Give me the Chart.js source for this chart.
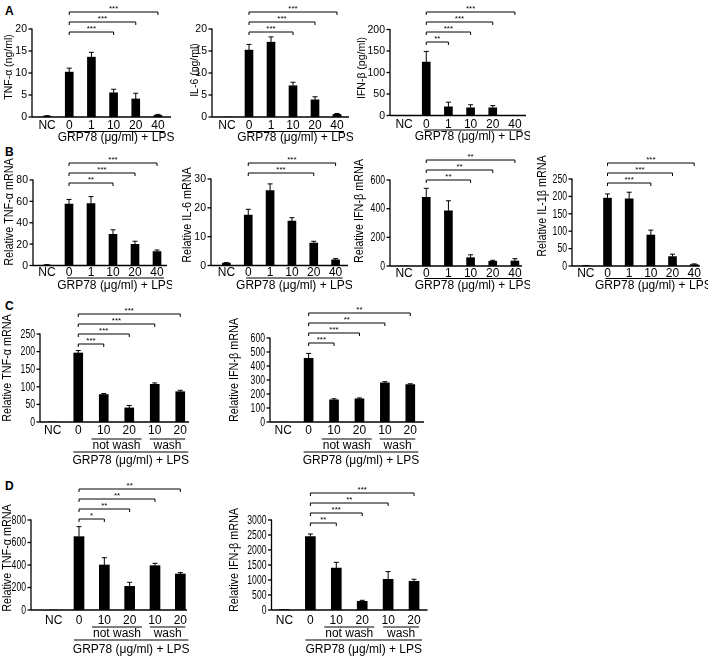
<!DOCTYPE html>
<html>
<head>
<meta charset="utf-8">
<script src="https://cdn.jsdelivr.net/npm/chart.js@4.4.0/dist/chart.umd.min.js"></script>
<style>
  body { margin: 0; background: #fff; width: 708px; height: 660px; position: relative; overflow: hidden;
         font-family: 'Liberation Sans', Arial, sans-serif; }
  canvas { position: absolute; }
  .panel { position: absolute; left: 5px; font-weight: bold; font-size: 12px; line-height: 12px; color: #000; }
</style>
</head>
<body>
<div class="panel" style="top:5px">A</div>
<div class="panel" style="top:146px">B</div>
<div class="panel" style="top:300px">C</div>
<div class="panel" style="top:480px">D</div>
<script>
// categories
const doseLabels = ['NC', '0', '1', '10', '20', '40'];
const washLabels = ['NC', '0', '10', '20', '10', '20'];
const washGroups = [[2, 3, 'not wash'], [4, 5, 'wash']];
const xTitle = 'GRP78 (μg/ml) + LPS';

// A - secreted protein
const aTnfTicks = [0, 5, 10, 15, 20];
const aTnfMean = [0.2, 10.2, 13.6, 5.5, 4.1, 0.4];
const aTnfErr = [0.1, 0.9, 1.1, 0.8, 1.3, 0.2];
const aTnfSig = [[1, 3, '***'], [1, 4, '***'], [1, 5, '***']];

const aIl6Ticks = [0, 5, 10, 15, 20];
const aIl6Mean = [0, 15.2, 17.0, 7.1, 3.9, 0.6];
const aIl6Err = [0, 1.3, 1.2, 0.8, 0.7, 0.2];
const aIl6Sig = [[1, 3, '***'], [1, 4, '***'], [1, 5, '***']];

const aIfnTicks = [0, 50, 100, 150, 200];
const aIfnMean = [0, 124, 20, 18, 18, 0];
const aIfnErr = [0, 25, 11, 7, 5, 0];
const aIfnSig = [[1, 2, '**'], [1, 3, '***'], [1, 4, '***'], [1, 5, '***']];

// B - mRNA
const bTnfTicks = [0, 20, 40, 60, 80];
const bTnfMean = [0.5, 57.4, 58, 29.2, 19.7, 13];
const bTnfErr = [0.3, 4.4, 6.5, 4.2, 3, 1.5];
const bTnfSig = [[1, 3, '**'], [1, 4, '***'], [1, 5, '***']];

const bIl6Ticks = [0, 10, 20, 30];
const bIl6Mean = [0.8, 17.5, 26, 15.4, 7.8, 2.0];
const bIl6Err = [0.2, 2.0, 2.3, 1.2, 0.6, 0.4];
const bIl6Sig = [[1, 4, '***'], [1, 5, '***']];

const bIfnTicks = [0, 200, 400, 600];
const bIfnMean = [0, 479, 385, 58, 33, 35];
const bIfnErr = [0, 63, 70, 20, 7, 16];
const bIfnSig = [[1, 3, '**'], [1, 4, '**'], [1, 5, '**']];

const bIl1Ticks = [0, 50, 100, 150, 200, 250];
const bIl1Mean = [1, 195, 193, 89, 27, 4];
const bIl1Err = [0.5, 12, 19, 14, 7, 2];
const bIl1Sig = [[1, 3, '***'], [1, 4, '***'], [1, 5, '***']];

// C - wash experiment
const cTnfTicks = [0, 50, 100, 150, 200, 250];
const cTnfMean = [0, 196, 78, 40, 107, 86];
const cTnfErr = [0, 7, 3, 7, 4, 4];
const cTnfSig = [[1, 2, '***'], [1, 3, '***'], [1, 4, '***'], [1, 5, '***']];

const cIfnTicks = [0, 100, 200, 300, 400, 500, 600];
const cIfnMean = [0, 455, 158, 165, 280, 268];
const cIfnErr = [0, 35, 8, 7, 8, 5];
const cIfnSig = [[1, 2, '***'], [1, 3, '***'], [1, 4, '**'], [1, 5, '**']];

// D - wash experiment
const dTnfTicks = [0, 200, 400, 600, 800];
const dTnfMean = [0, 652, 400, 210, 394, 320];
const dTnfErr = [0, 89, 65, 36, 21, 12];
const dTnfSig = [[1, 2, '*'], [1, 3, '**'], [1, 4, '**'], [1, 5, '**']];

const dIfnTicks = [0, 500, 1000, 1500, 2000, 2500, 3000];
const dIfnMean = [10, 2444, 1400, 290, 1020, 955];
const dIfnErr = [0, 89, 189, 33, 260, 70];
const dIfnSig = [[1, 2, '**'], [1, 3, '***'], [1, 4, '**'], [1, 5, '***']];

const FONT = "'Liberation Sans', Arial, sans-serif";
Chart.defaults.font.family = FONT;
Chart.defaults.color = '#000';

// row placement: canvas band, tick label / group label offsets below the x axis
const rowA = { row: [0, 148], tFont: '10.5px ' + FONT, tSx: 1, tickOff: 9, line: 14.5, text: 21 };
const rowB = { row: [148, 300], tFont: '12px ' + FONT, tSx: 0.9, tickOff: 7.5, line: 12.5, text: 20 };
const rowC = { row: [300, 472], tFont: '12px ' + FONT, tSx: 0.9, tickOff: 9, subLine: 17, subText: 23.5, line: 30, text: 39 };
const rowD = { row: [472, 660], tFont: '12px ' + FONT, tSx: 0.9, tickOff: 11, subLine: 17, subText: 24, line: 30, text: 40 };
// y tick label styles (condensed look is a horizontal squeeze)
const yRegular = { font: '10.5px ' + FONT, sx: 1 };
const yNarrow = { font: '12px ' + FONT, sx: 0.72 };

const charts = [
  { ...rowA, yl: yRegular, title: 'TNF-α (ng/ml)', labels: doseLabels, ticks: aTnfTicks, mean: aTnfMean, err: aTnfErr, sig: aTnfSig,
    tx: 9, ty: 67, axisX: 32, L: 36, R: 169, xEnd: 171, top: 29, y0: 117, sig0: 32, barW: 8 },
  { ...rowA, yl: yRegular, title: 'IL-6 (ng/ml)', labels: doseLabels, ticks: aIl6Ticks, mean: aIl6Mean, err: aIl6Err, sig: aIl6Sig,
    tx: 195, ty: 70, axisX: 212, L: 216, R: 348, xEnd: 349, top: 29, y0: 117, sig0: 32, barW: 8 },
  { ...rowA, yl: yRegular, title: 'IFN-β (pg/ml)', labels: doseLabels, ticks: aIfnTicks, mean: aIfnMean, err: aIfnErr, sig: aIfnSig,
    tx: 362, ty: 68, axisX: 390, L: 393, R: 526, xEnd: 526, top: 29.5, y0: 115.5, sig0: 42, barW: 8 },

  { ...rowB, yl: yRegular, title: 'Relative TNF-α mRNA', labels: doseLabels, ticks: bTnfTicks, mean: bTnfMean, err: bTnfErr, sig: bTnfSig,
    tx: 10, ty: 212, axisX: 33, L: 36, R: 168, xEnd: 167, top: 180, y0: 265.5, sig0: 183, barW: 8 },
  { ...rowB, yl: yRegular, title: 'Relative IL-6 mRNA', labels: doseLabels, ticks: bIl6Ticks, mean: bIl6Mean, err: bIl6Err, sig: bIl6Sig,
    tx: 188, ty: 215, axisX: 211, L: 215.5, R: 346.5, xEnd: 348, top: 179, y0: 265.5, sig0: 173, barW: 8 },
  { ...rowB, yl: yNarrow, title: 'Relative IFN-β mRNA', labels: doseLabels, ticks: bIfnTicks, mean: bIfnMean, err: bIfnErr, sig: bIfnSig,
    tx: 360, ty: 211, axisX: 390, L: 393, R: 526, xEnd: 522, top: 180, y0: 266, sig0: 180, barW: 8 },
  { ...rowB, yl: yNarrow, title: 'Relative IL-1β mRNA', labels: doseLabels, ticks: bIl1Ticks, mean: bIl1Mean, err: bIl1Err, sig: bIl1Sig,
    tx: 543, ty: 206, axisX: 572, L: 575, R: 705, xEnd: 700, top: 179, y0: 266, sig0: 183, barW: 8 },

  { ...rowC, yl: yNarrow, title: 'Relative TNF-α mRNA', labels: washLabels, groups: washGroups, ticks: cTnfTicks, mean: cTnfMean, err: cTnfErr, sig: cTnfSig,
    tx: 8, ty: 368, axisX: 40, L: 40, R: 193, xEnd: 189, top: 334, y0: 422, sig0: 344, barW: 9 },
  { ...rowC, yl: yNarrow, title: 'Relative IFN-β mRNA', labels: washLabels, groups: washGroups, ticks: cIfnTicks, mean: cIfnMean, err: cIfnErr, sig: cIfnSig,
    tx: 235, ty: 370, axisX: 270, L: 270.5, R: 423, xEnd: 424, top: 338, y0: 422, sig0: 343, barW: 9 },

  { ...rowD, yl: yNarrow, title: 'Relative TNF-α mRNA', labels: washLabels, groups: washGroups, ticks: dTnfTicks, mean: dTnfMean, err: dTnfErr, sig: dTnfSig,
    tx: 8, ty: 558, axisX: 31, L: 41, R: 193, xEnd: 187, top: 520, y0: 610, sig0: 519, barW: 10 },
  { ...rowD, yl: yNarrow, title: 'Relative IFN-β mRNA', labels: washLabels, groups: washGroups, ticks: dIfnTicks, mean: dIfnMean, err: dIfnErr, sig: dIfnSig,
    tx: 235, ty: 560, axisX: 271.5, L: 271.5, R: 427, xEnd: 427.5, top: 520, y0: 610, sig0: 523, barW: 10 }
];

// axes, y tick labels, error bars, significance brackets, axis titles and group labels
function decor(s, cx, cy) {
  return {
    id: 'decor',
    afterDatasetsDraw(chart) {
      const ctx = chart.ctx, xs = chart.scales.x, ys = chart.scales.y;
      const X = v => v - cx, Y = v => v - cy;
      const seg = (x1, y1, x2, y2) => { ctx.beginPath(); ctx.moveTo(x1, y1); ctx.lineTo(x2, y2); ctx.stroke(); };
      const squeezed = (txt, x, y, sx) => {
        ctx.save(); ctx.translate(x, y); ctx.scale(sx, 1); ctx.fillText(txt, 0, 0); ctx.restore();
      };
      ctx.save();
      ctx.strokeStyle = '#000';
      ctx.fillStyle = '#000';

      ctx.lineWidth = 1.3;
      const base = ys.getPixelForValue(0), topY = ys.getPixelForValue(ys.max);
      const ax = X(s.axisX);
      seg(ax, topY - 0.6, ax, base);
      seg(ax, base, X(s.xEnd), base);
      ctx.font = s.yl.font;
      ctx.textAlign = 'right';
      ctx.textBaseline = 'middle';
      ys.ticks.forEach(t => {
        const y = ys.getPixelForValue(t.value);
        seg(ax - 3.5, y, ax, y);
        squeezed(String(t.value), ax - 5, y + 0.5, s.yl.sx);
      });

      ctx.lineWidth = 1;
      s.mean.forEach((m, i) => {
        const e = s.err[i];
        if (!e) return;
        const x = xs.getPixelForValue(i);
        const y1 = ys.getPixelForValue(m), y2 = ys.getPixelForValue(m + e);
        seg(x, y1, x, y2);
        seg(x - 2.5, y2, x + 2.5, y2);
      });

      ctx.font = '8px ' + FONT;
      ctx.textAlign = 'center';
      ctx.textBaseline = 'alphabetic';
      s.sig.forEach(([a, b, lab], k) => {
        const y = Y(s.sig0 - k * 10);
        const xa = xs.getPixelForValue(a), xb = xs.getPixelForValue(b);
        ctx.beginPath();
        ctx.moveTo(xa, y + 3); ctx.lineTo(xa, y); ctx.lineTo(xb, y); ctx.lineTo(xb, y + 3);
        ctx.stroke();
        ctx.fillText(lab, (xa + xb) / 2, y - 1.5);
      });

      // rotated y title
      ctx.save();
      ctx.translate(X(s.tx), Y(s.ty));
      ctx.rotate(-Math.PI / 2);
      ctx.scale(s.tSx, 1);
      ctx.font = s.tFont;
      ctx.textBaseline = 'middle';
      ctx.fillText(s.title, 0, 0);
      ctx.restore();

      ctx.font = '12px ' + FONT;
      ctx.textBaseline = 'middle';
      ctx.lineWidth = 1.2;
      const n = s.labels.length;
      let x1, x2;
      if (s.groups) {
        s.groups.forEach(([a, b, lab]) => {
          const xa = xs.getPixelForValue(a), xb = xs.getPixelForValue(b);
          const mid = (xa + xb) / 2;
          const half = Math.max(ctx.measureText(lab).width + 2, xb - xa + 10) / 2;
          seg(mid - half, Y(s.y0 + s.subLine), mid + half, Y(s.y0 + s.subLine));
          ctx.fillText(lab, mid, Y(s.y0 + s.subText));
        });
        x1 = xs.getPixelForValue(1) - 5;
        x2 = xs.getPixelForValue(n - 1) + 8;
      } else {
        x1 = xs.getPixelForValue(1) - 2;
        x2 = xs.getPixelForValue(n - 1) + 7;
      }
      seg(x1, Y(s.y0 + s.line), x2, Y(s.y0 + s.line));
      ctx.fillText(xTitle, (x1 + x2) / 2, Y(s.y0 + s.text));
      ctx.restore();
    }
  };
}

function makeChart(s) {
  const cx = Math.round(s.tx - 8);
  const cy = s.row[0];
  const w = Math.ceil(Math.max(s.R, s.xEnd) + 4 - cx);
  const h = s.row[1] - s.row[0];
  const canvas = document.createElement('canvas');
  canvas.width = w;
  canvas.height = h;
  canvas.style.left = cx + 'px';
  canvas.style.top = cy + 'px';
  document.body.appendChild(canvas);
  const t = s.ticks;
  new Chart(canvas, {
    type: 'bar',
    data: {
      labels: s.labels,
      datasets: [{ data: s.mean, backgroundColor: '#000', barThickness: s.barW, borderWidth: 0 }]
    },
    options: {
      responsive: false,
      animation: false,
      events: [],
      layout: { padding: { top: s.top - cy, right: w - (s.R - cx), left: 0, bottom: 0 } },
      plugins: { legend: { display: false }, tooltip: { enabled: false } },
      scales: {
        x: {
          grid: { display: false, drawTicks: false },
          border: { display: false },
          ticks: { padding: s.tickOff - 7.2, font: { size: 12 }, color: '#000', autoSkip: false, maxRotation: 0 },
          afterFit: sc => { sc.height = s.row[1] - s.y0; }
        },
        y: {
          min: t[0],
          max: t[t.length - 1],
          grid: { display: false, drawTicks: false },
          border: { display: false },
          ticks: { display: false, stepSize: t[1] - t[0], autoSkip: false },
          afterFit: sc => { sc.width = s.L - cx; }
        }
      }
    },
    plugins: [decor(s, cx, cy)]
  });
}

charts.forEach(makeChart);
</script>
</body>
</html>
